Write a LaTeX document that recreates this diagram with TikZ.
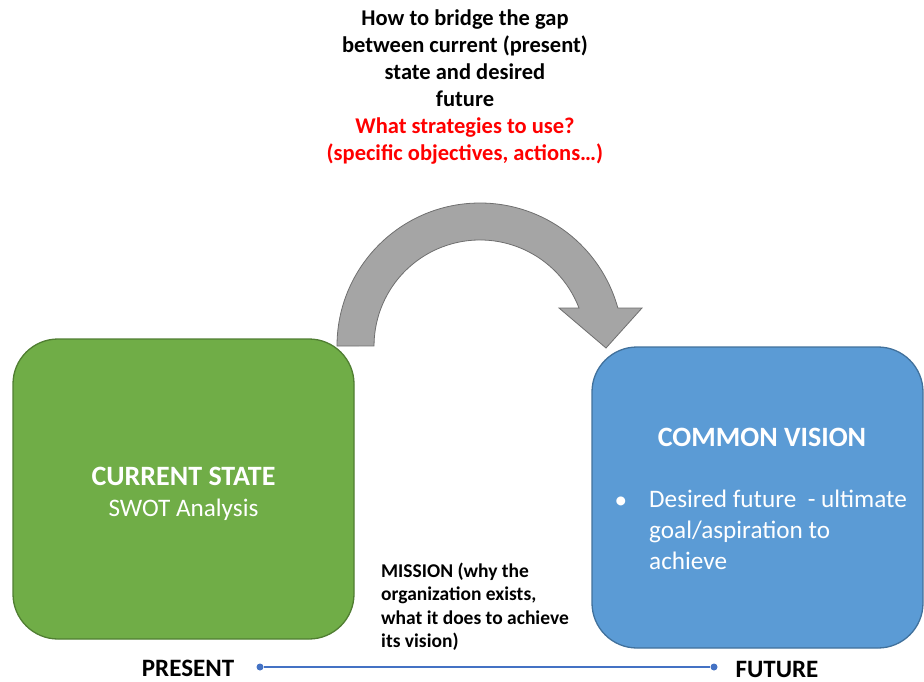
\documentclass[tikz,border=0pt]{standalone}
\usepackage{fontspec}
\setmainfont{Carlito}
\usetikzlibrary{positioning}

\definecolor{stategreen}{HTML}{70AD47}
\definecolor{stateedge}{HTML}{507E32}
\definecolor{visionblue}{HTML}{5B9BD5}
\definecolor{visionedge}{HTML}{41719C}
\definecolor{bridgegray}{HTML}{A5A5A5}
\definecolor{bridgeedge}{HTML}{6F6F6F}
\definecolor{lineblue}{HTML}{4472C4}

\tikzset {
  % big rounded boxes
  stage/.style = {
    draw,
    line width = 1.3pt,
    rectangle,
    rounded corners = 45pt,
    inner sep = 0
  },
  current box/.style = {
    stage,
    draw = stateedge,
    fill = stategreen,
    minimum width = 341pt,
    minimum height = 300pt
  },
  vision box/.style = {
    stage,
    draw = visionedge,
    fill = visionblue,
    minimum width = 331pt,
    minimum height = 301pt
  },
  % text styles
  box title/.style = {
    text = white,
    font = \fontsize{28}{32}\selectfont\bfseries,
    inner sep = 0
  },
  box text/.style = {
    text = white,
    font = \fontsize{25.2}{31}\selectfont,
    align = left,
    inner sep = 0
  },
  note/.style = {
    align = center,
    font = \fontsize{22.5}{27}\selectfont\bfseries,
    inner sep = 0
  },
  side note/.style = {
    align = left,
    font = \fontsize{19.5}{23.3}\selectfont\bfseries,
    inner sep = 0
  },
  time label/.style = {
    font = \fontsize{25}{28}\selectfont\bfseries,
    inner sep = 0
  },
  % the time line and its end points
  timeline/.style = {
    draw = lineblue,
    line width = 1.3pt
  },
  tick/.style = {
    fill = lineblue,
    circle,
    minimum size = 7pt,
    inner sep = 0
  },
  bridge/.style = {
    fill = bridgegray,
    draw = bridgeedge,
    line width = 0.8pt,
    line join = miter
  }
}

\begin{document}
\begin{tikzpicture}[x=1pt, y=-1pt]
    \useasboundingbox (0,0) rectangle (924,681);

    \node[note, anchor=north] (gap) at (465,10) {How to bridge the gap\\between current (present)\\state and desired\\future\\
      \textcolor{red}{What strategies to use?}\\\textcolor{red}{(specific objectives, actions…)}};

    \node[current box] (current) at (183.5,489) {};
    \node[box title] (current title) at (183.5,476) {CURRENT STATE};
    \node[box text, anchor=base] (swot) at (183.5,516) {SWOT Analysis};

    \node[vision box] (vision) at (757.5,497.5) {};
    \node[box title] (vision title) at (762,437) {COMMON VISION};
    \node[box text, anchor=north west] (goal) at (649,490) {Desired future\ \ - ultimate\\goal/aspiration to\\achieve};
    \node[box text, anchor=base] (dot) at (621,508) {•};

    \node[side note, anchor=north west] (mission) at (381,563) {MISSION (why the\\organization exists,\\what it does to achieve\\its vision)};

    % bent arrow from the current state to the vision
    \draw[bridge] (337,346)
      arc[start angle=180, end angle=344.6, radius=143]
      -- (642,308)
      -- (606,348)
      -- (559,308)
      -- (579,308)
      arc[start angle=339, end angle=180, radius=106]
      -- cycle;

    \node[time label] (present) at (188,668) {PRESENT};
    \node[time label] (future) at (777,669) {FUTURE};
    \node[tick] (t0) at (260,667) {};
    \node[tick] (t1) at (714,667) {};
    \draw[timeline] (t0) -- (t1);
\end{tikzpicture}
\end{document}
